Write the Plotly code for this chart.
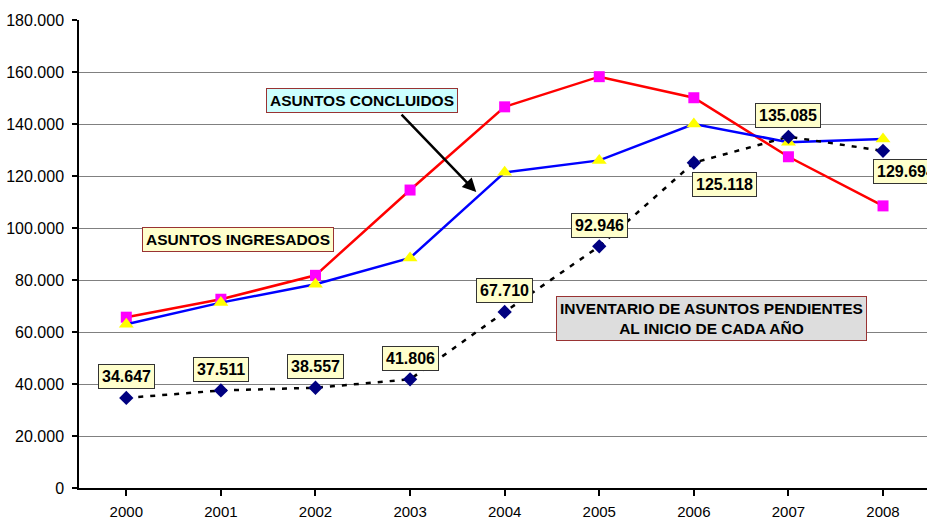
import plotly.graph_objects as go

years = ["2000", "2001", "2002", "2003", "2004", "2005", "2006", "2007", "2008"]
ingresados = [65700, 72600, 81800, 114600, 146600, 158200, 150100, 127400, 108500]
concluidos = [63000, 71300, 78400, 88500, 121400, 126000, 140000, 133000, 134200]
pendientes = [34647, 37511, 38557, 41806, 67710, 92946, 125118, 135085, 129694]
y_ticks = [0, 20000, 40000, 60000, 80000, 100000, 120000, 140000, 160000, 180000]

FONT = "Liberation Sans, Arial, sans-serif"
xi = list(range(len(years)))

fig = go.Figure()
fig.add_trace(go.Scatter(
    x=xi, y=ingresados, mode="lines+markers", name="ASUNTOS INGRESADOS",
    line=dict(color="#FF0000", width=2.5),
    marker=dict(symbol="square", size=11, color="#FF00FF"),
))
fig.add_trace(go.Scatter(
    x=xi, y=concluidos, mode="lines+markers", name="ASUNTOS CONCLUIDOS",
    line=dict(color="#0000FF", width=2.5),
    marker=dict(symbol="triangle-up", size=13, color="#FFFF00"),
))
fig.add_trace(go.Scatter(
    x=xi, y=pendientes, mode="lines+markers", name="PENDIENTES",
    line=dict(color="#000000", width=2.5, dash="5px,7px"),
    marker=dict(symbol="diamond", size=11, color="#000080"),
))

# data labels for pending cases
shifts = [(0, 21), (0, 21), (0, 21), (0, 21), (0, 21), (0, 21), (31, -22), (0, 21), (23, -21)]
for i, v in enumerate(pendientes):
    dx, dy = shifts[i]
    fig.add_annotation(
        x=i, y=v, xref="x", yref="y", showarrow=False,
        text="<b>" + f"{v:,}".replace(",", ".") + "</b>",
        font=dict(family=FONT, size=16, color="#000000"),
        bgcolor="#FFFFCC", bordercolor="#333333", borderwidth=1, borderpad=3,
        xshift=dx, yshift=dy,
    )

fig.add_annotation(
    x=2.489, y=149000, xref="x", yref="y", showarrow=False,
    text="<b>ASUNTOS CONCLUIDOS</b>",
    font=dict(family=FONT, size=15.5, color="#000000"),
    bgcolor="#CCFFFF", bordercolor="#993333", borderwidth=1, borderpad=3,
)
fig.add_annotation(
    x=3.70, y=113800, xref="x", yref="y", ax=2.895, ay=144200, axref="x", ayref="y",
    text="", showarrow=True, arrowhead=2, arrowsize=1.1, arrowwidth=2.5, arrowcolor="#000000",
)
fig.add_annotation(
    x=1.178, y=95600, xref="x", yref="y", showarrow=False,
    text="<b>ASUNTOS INGRESADOS</b>",
    font=dict(family=FONT, size=15.5, color="#000000"),
    bgcolor="#FFFFCC", bordercolor="#993333", borderwidth=1, borderpad=3,
)
fig.add_annotation(
    x=6.19, y=65200, xref="x", yref="y", showarrow=False,
    text="<b>INVENTARIO DE ASUNTOS PENDIENTES<br>AL INICIO DE CADA AÑO</b>",
    font=dict(family=FONT, size=15.5, color="#000000"),
    bgcolor="#DDDDDD", bordercolor="#993333", borderwidth=1, borderpad=3,
)

fig.update_layout(
    width=927, height=519,
    margin=dict(l=79, r=0, t=20, b=31, autoexpand=False),
    paper_bgcolor="white", plot_bgcolor="white",
    showlegend=False,
    separators=",.",
    font=dict(family=FONT, size=15, color="#000000"),
)
fig.update_xaxes(
    range=[-0.5, 8.465], tickmode="array", tickvals=xi, ticktext=years,
    showgrid=False, zeroline=False, automargin=False,
    showline=True, linecolor="#000000", linewidth=1.5,
    ticks="outside", tickson="boundaries", ticklen=6, tickcolor="#000000", tickwidth=1.5,
    ticklabelstandoff=3, tickfont=dict(size=15),
)
fig.update_yaxes(
    range=[0, 180000], tickmode="array", tickvals=y_ticks, tickformat=",d",
    showgrid=True, gridcolor="#808080", gridwidth=1, zeroline=False, automargin=False,
    showline=True, linecolor="#000000", linewidth=1.5,
    ticks="outside", ticklen=5, tickcolor="#000000", tickwidth=1.5,
    ticklabelstandoff=5, tickfont=dict(size=16),
)

fig.write_html("out.html")
